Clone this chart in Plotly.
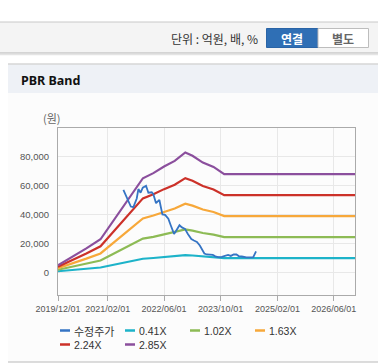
import plotly.graph_objects as go

# ---------------- data ----------------
band_dates = ["2019-12-01", "2020-04-01", "2020-08-01", "2020-12-01", "2021-02-01",
              "2021-06-01", "2021-10-01", "2021-12-01", "2022-03-01", "2022-06-01",
              "2022-09-01", "2022-12-01", "2023-02-01", "2023-05-01", "2023-08-01",
              "2023-11-01", "2026-12-01"]
band_041 = [700, 1500, 2380, 3280, 4320, 6370, 8440, 9350, 9860, 10520,
            11070, 11910, 11580, 10910, 10480, 9760, 9760]
band_102 = [1730, 3720, 5920, 8160, 10750, 15840, 20990, 23260, 24520, 26160,
            27540, 29630, 28820, 27130, 26060, 24280, 24280]
band_163 = [2770, 5950, 9450, 13040, 17180, 25310, 33550, 37160, 39190, 41810,
            44010, 47350, 46050, 43360, 41650, 38790, 38790]
band_224 = [3810, 8180, 12990, 17920, 23610, 34790, 46100, 51070, 53850, 57460,
            60480, 65070, 63280, 59580, 57230, 53310, 53310]
band_285 = [4850, 10400, 16530, 22800, 30040, 44260, 58650, 64980, 68510, 73100,
            76950, 82790, 80510, 75810, 72820, 67830, 67830]

price_dates = ["2021-06-16", "2021-07-15", "2021-08-19", "2021-09-10", "2021-10-09",
               "2021-10-23", "2021-11-11", "2021-11-30", "2021-12-28", "2022-01-17",
               "2022-02-15", "2022-03-01", "2022-03-24", "2022-04-08", "2022-04-22",
               "2022-05-02", "2022-05-18", "2022-06-10", "2022-07-08", "2022-07-26",
               "2022-08-13", "2022-08-26", "2022-09-08", "2022-09-25", "2022-10-12",
               "2022-11-02", "2022-11-28", "2022-12-23", "2023-01-22", "2023-02-13",
               "2023-03-11", "2023-04-05", "2023-04-23", "2023-05-14", "2023-06-05",
               "2023-06-30", "2023-07-26", "2023-08-16", "2023-09-10", "2023-10-11",
               "2023-11-06", "2023-12-04", "2023-12-28", "2024-01-22", "2024-02-14",
               "2024-03-05", "2024-03-31", "2024-05-10", "2024-06-22", "2024-07-08",
               "2024-08-01"]
price_vals = [57000, 51200, 45400, 45000, 51000, 57500, 55000, 58500, 59800, 55000,
              55300, 54000, 47700, 49000, 50000, 46000, 40000, 39700, 37000, 33000,
              28500, 26500, 28000, 30500, 32500, 31000, 30000, 26500, 23000, 22000,
              21000, 18500, 15500, 13000, 12300, 12300, 12000, 11000, 10500, 10700,
              11500, 12000, 11300, 12300, 12300, 11200, 10900, 10300, 10300, 10500,
              14500]

series_names = ["수정주가", "0.41X", "1.02X", "1.63X", "2.24X", "2.85X"]
series_colors = ["#3574c4", "#1db3c9", "#8dbb55", "#f7a83a", "#cc3129", "#8b4f9d"]

x_tickvals = ["2019-12-01", "2021-02-01", "2022-06-01", "2023-10-01", "2025-02-01", "2026-06-01"]
x_ticktext = ["2019/12/01", "2021/02/01", "2022/06/01", "2023/10/01", "2025/02/01", "2026/06/01"]
y_tickvals = [0, 20000, 40000, 60000, 80000]
y_ticktext = ["0", "20,000", "40,000", "60,000", "80,000"]

# ---------------- layout geometry (page pixels) ----------------
W, H = 378, 364
PL, PR, PT, PB = 58, 355, 128, 295


def X(px):
    return (px - PL) / (PR - PL)


def Y(py):
    return (PB - py) / (PB - PT)


fig = go.Figure()

band_series = [band_041, band_102, band_163, band_224, band_285]
for i, vals in enumerate(band_series):
    fig.add_trace(go.Scatter(x=band_dates, y=vals, mode="lines", name=series_names[i + 1],
                             line=dict(color=series_colors[i + 1], width=2.2), hoverinfo="skip"))
fig.add_trace(go.Scatter(x=price_dates, y=price_vals, mode="lines", name=series_names[0],
                         line=dict(color=series_colors[0], width=1.8), hoverinfo="skip"))

shapes = []
annotations = []

# top toolbar
shapes.append(dict(type="rect", xref="paper", yref="paper", x0=X(0), x1=X(W), y0=Y(53), y1=Y(22),
                   fillcolor="#f4f4f4", line=dict(width=0), layer="below"))
shapes.append(dict(type="line", xref="paper", yref="paper", x0=X(0), x1=X(W), y0=Y(22), y1=Y(22),
                   line=dict(color="#c8c8c8", width=1), layer="below"))
shapes.append(dict(type="line", xref="paper", yref="paper", x0=X(0), x1=X(W), y0=Y(53), y1=Y(53),
                   line=dict(color="#b4b4b4", width=1.2), layer="below"))
shapes.append(dict(type="line", xref="paper", yref="paper", x0=X(0), x1=X(W), y0=Y(54.5), y1=Y(54.5),
                   line=dict(color="#e4e4e4", width=1.5), layer="below"))
# buttons
shapes.append(dict(type="rect", xref="paper", yref="paper", x0=X(266.5), x1=X(318), y0=Y(47.5), y1=Y(28.5),
                   fillcolor="#2f6fb5", line=dict(color="#2a64a6", width=1), layer="below"))
shapes.append(dict(type="rect", xref="paper", yref="paper", x0=X(318), x1=X(368.5), y0=Y(47.5), y1=Y(28.5),
                   fillcolor="#ffffff", line=dict(color="#bdbdbd", width=1), layer="below"))
annotations.append(dict(xref="paper", yref="paper", x=X(260), y=Y(39), text="단위 : 억원, 배, %",
                        showarrow=False, xanchor="right", yanchor="middle",
                        font=dict(family="Noto Sans CJK KR", size=12, color="#333333")))
annotations.append(dict(xref="paper", yref="paper", x=X(292), y=Y(38.5), text="<b>연결</b>",
                        showarrow=False, xanchor="center", yanchor="middle",
                        font=dict(family="Noto Sans CJK KR", size=12, color="#ffffff")))
annotations.append(dict(xref="paper", yref="paper", x=X(343), y=Y(38.5), text="<b>별도</b>",
                        showarrow=False, xanchor="center", yanchor="middle",
                        font=dict(family="Noto Sans CJK KR", size=12, color="#666666")))

# panel
shapes.append(dict(type="rect", xref="paper", yref="paper", x0=X(8), x1=X(W), y0=Y(93), y1=Y(64),
                   fillcolor="#eef1f6", line=dict(width=0), layer="below"))
shapes.append(dict(type="line", xref="paper", yref="paper", x0=X(8), x1=X(W), y0=Y(64), y1=Y(64),
                   line=dict(color="#d6d6d6", width=1.5), layer="below"))
shapes.append(dict(type="rect", xref="paper", yref="paper", x0=X(8), x1=X(W), y0=Y(362), y1=Y(93),
                   fillcolor="#fcfcfc", line=dict(width=0), layer="below"))
shapes.append(dict(type="line", xref="paper", yref="paper", x0=X(8), x1=X(W), y0=Y(362), y1=Y(362),
                   line=dict(color="#d0d0d0", width=1.5), layer="below"))
annotations.append(dict(xref="paper", yref="paper", x=X(19), y=Y(80), text="<b>PBR Band</b>",
                        showarrow=False, xanchor="left", yanchor="middle",
                        font=dict(family="Noto Sans", size=12.5, color="#111111")))
annotations.append(dict(xref="paper", yref="paper", x=X(52), y=Y(117.5), text="(원)",
                        showarrow=False, xanchor="center", yanchor="middle",
                        font=dict(family="Noto Sans CJK KR", size=11, color="#666666")))

# custom legend
legend_pos = [(60, 330.5), (125, 330.5), (190, 330.5), (255, 330.5), (60, 344.5), (125, 344.5)]
for idx, (lx, ly) in enumerate(legend_pos):
    shapes.append(dict(type="line", xref="paper", yref="paper", x0=X(lx), x1=X(lx + 10),
                       y0=Y(ly), y1=Y(ly), line=dict(color=series_colors[idx], width=2.5)))
    fam = "Noto Sans CJK KR" if idx == 0 else "Liberation Sans"
    annotations.append(dict(xref="paper", yref="paper", x=X(lx + 11.5), y=Y(ly), text=series_names[idx],
                            showarrow=False, xanchor="left", yanchor="middle",
                            font=dict(family=fam, size=11 if idx == 0 else 10.5, color="#333333")))

fig.update_layout(
    width=W, height=H,
    margin=dict(l=PL, r=W - PR, t=PT, b=H - PB, pad=0),
    paper_bgcolor="#ffffff",
    plot_bgcolor="rgba(0,0,0,0)",
    showlegend=False,
    shapes=shapes,
    annotations=annotations,
    xaxis=dict(type="date", range=["2019-12-01", "2026-12-01"],
               tickvals=x_tickvals, ticktext=x_ticktext,
               showgrid=True, gridcolor="#e8e8e8", gridwidth=1,
               showline=True, linecolor="#aaaaaa", linewidth=1, mirror=True,
               ticks="outside", ticklen=5, tickcolor="#aaaaaa",
               tickfont=dict(family="Liberation Sans", size=9, color="#555555"),
               zeroline=False, fixedrange=True),
    yaxis=dict(range=[-15700, 99700], tickvals=y_tickvals, ticktext=y_ticktext,
               showgrid=True, gridcolor="#e8e8e8", gridwidth=1,
               showline=True, linecolor="#aaaaaa", linewidth=1, mirror=True,
               ticks="", ticklabelstandoff=6,
               tickfont=dict(family="Liberation Sans", size=9.5, color="#555555"),
               zeroline=False, fixedrange=True),
)

fig.write_html("out.html", config={"displayModeBar": False},
               post_script="document.body.style.margin='0';document.body.style.overflow='hidden';")
